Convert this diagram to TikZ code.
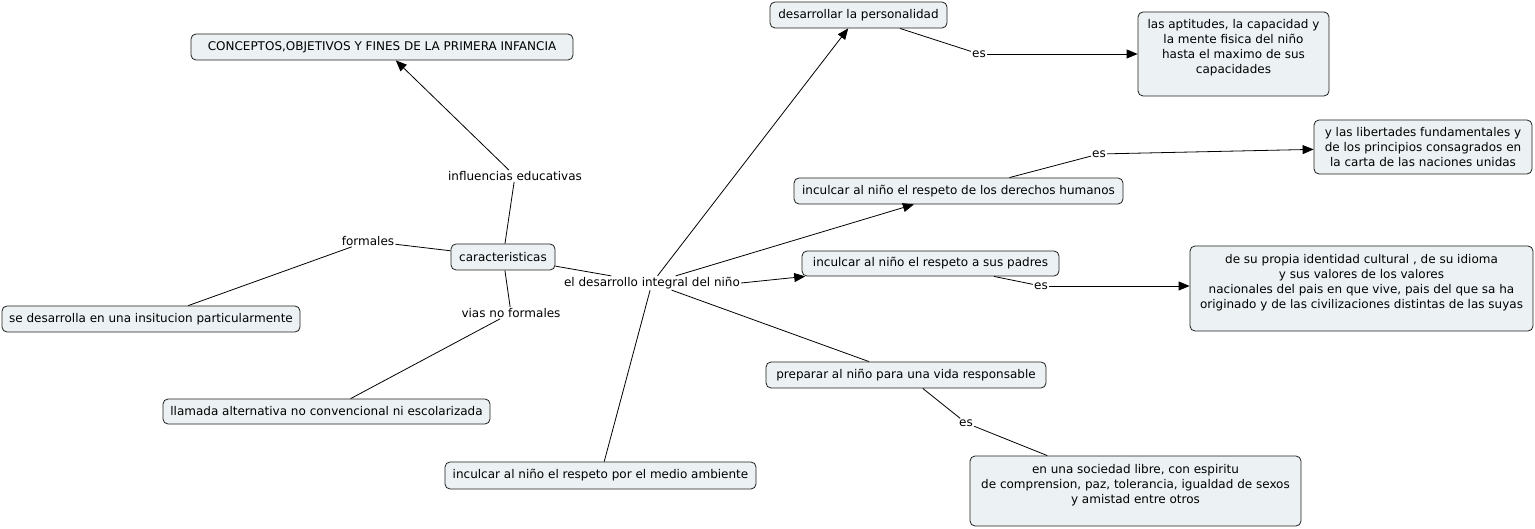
\documentclass[tikz,border=0pt]{standalone}
\usepackage{fontspec}
\setmainfont{DejaVu Sans}
\usetikzlibrary{arrows.meta,calc}
\definecolor{boxfill}{RGB}{236,242,244}
\definecolor{boxline}{RGB}{30,30,30}
\tikzset{
  cbox/.style={draw=boxline, fill=boxfill, rounded corners=5pt, line width=0.8pt, inner sep=0pt, font=\fontsize{12}{14.8}\selectfont},
  lbl/.style={inner sep=1pt, font=\fontsize{12}{14.8}\selectfont},
  btxt/.style={inner sep=0pt, anchor=north, align=center, font=\fontsize{12}{14.8}\selectfont},
  conn/.style={line width=0.8pt, draw=black},
  arr/.style={conn, -{Triangle[length=11pt,width=9pt]}}
}
\begin{document}
\begin{tikzpicture}[x=1pt,y=-1pt]
\useasboundingbox (0,0) rectangle (1535,529);
% boxes
\node[cbox, minimum width=382, minimum height=26] (conc) at (382,47) {CONCEPTOS,OBJETIVOS Y FINES DE LA PRIMERA INFANCIA};
\node[cbox, minimum width=177, minimum height=26] (pers) at (858.5,15) {desarrollar la personalidad};
\node[cbox, minimum width=191, minimum height=84] (apt) at (1233.5,54) {};
\node[btxt] (apttxt) at ($(apt.north)+(0,8)$) {las aptitudes, la capacidad y\\la mente fisica del niño\\hasta el maximo de sus\\capacidades};
\node[cbox, minimum width=218, minimum height=54] (lib) at (1423,147) {};
\node[btxt] (libtxt) at ($(lib.north)+(0,8)$) {y las libertades fundamentales y\\de los principios consagrados en\\la carta de las naciones unidas};
\node[cbox, minimum width=329, minimum height=26] (der) at (958.5,191) {inculcar al niño el respeto de los derechos humanos};
\node[cbox, minimum width=257, minimum height=25] (pad) at (930.5,263.5) {inculcar al niño el respeto a sus padres};
\node[cbox, minimum width=343, minimum height=85] (ide) at (1361.5,288.5) {};
\node[btxt] (idetxt) at ($(ide.north)+(0,9)$) {de su propia identidad cultural , de su idioma\\y sus valores de los valores\\nacionales del pais en que vive, pais del que sa ha\\originado y de las civilizaciones distintas de las suyas};
\node[cbox, minimum width=104, minimum height=26] (car) at (503,257) {caracteristicas};
\node[cbox, minimum width=298, minimum height=26] (ins) at (151,319) {se desarrolla en una insitucion particularmente};
\node[cbox, minimum width=327, minimum height=25] (lla) at (326.5,411.5) {llamada alternativa no convencional ni escolarizada};
\node[cbox, minimum width=311, minimum height=27] (med) at (600.5,475.5) {inculcar al niño el respeto por el medio ambiente};
\node[cbox, minimum width=280, minimum height=26] (pre) at (906,375) {preparar al niño para una vida responsable};
\node[cbox, minimum width=331, minimum height=70] (soc) at (1135.5,491) {};
\node[btxt] (soctxt) at ($(soc.north)+(0,9)$) {en una sociedad libre, con espiritu\\de comprension, paz, tolerancia, igualdad de sexos\\y amistad entre otros};
% labels
\node[lbl] (inf) at (515,176) {influencias educativas};
\node[lbl] (for) at (368,241) {formales};
\node[lbl] (via) at (511,313) {vias no formales};
\node[lbl] (dev) at (652,283) {el desarrollo integral del niño};
\node[lbl] (es1) at (979,54) {es};
\node[lbl] (es2) at (1099,154) {es};
\node[lbl] (es3) at (1041,286) {es};
\node[lbl] (es4) at (966,423) {es};
% connectors
\draw[conn] (car) -- (inf);
\draw[arr] (inf) -- (conc);
\draw[conn] (car) -- (for);
\draw[conn] (for) -- (ins);
\draw[conn] (car) -- (via);
\draw[conn] (via) -- (lla);
\draw[conn] (car) -- (dev);
\draw[arr] (dev) -- (pers);
\draw[arr] (dev) -- (der);
\draw[arr] (dev.east) -- (pad);
\draw[conn] (dev) -- (pre);
\draw[conn] (dev) -- (med);
\draw[conn] (pers) -- (es1);
\draw[arr] (es1) -- (apt.west |- es1);
\draw[conn] (der) -- (es2);
\draw[arr] (es2) -- (lib);
\draw[conn] (pad) -- (es3);
\draw[arr] (es3) -- (ide.west |- es3);
\draw[conn] (pre) -- (es4);
\draw[conn] (es4) -- (soc);
\end{tikzpicture}
\end{document}
